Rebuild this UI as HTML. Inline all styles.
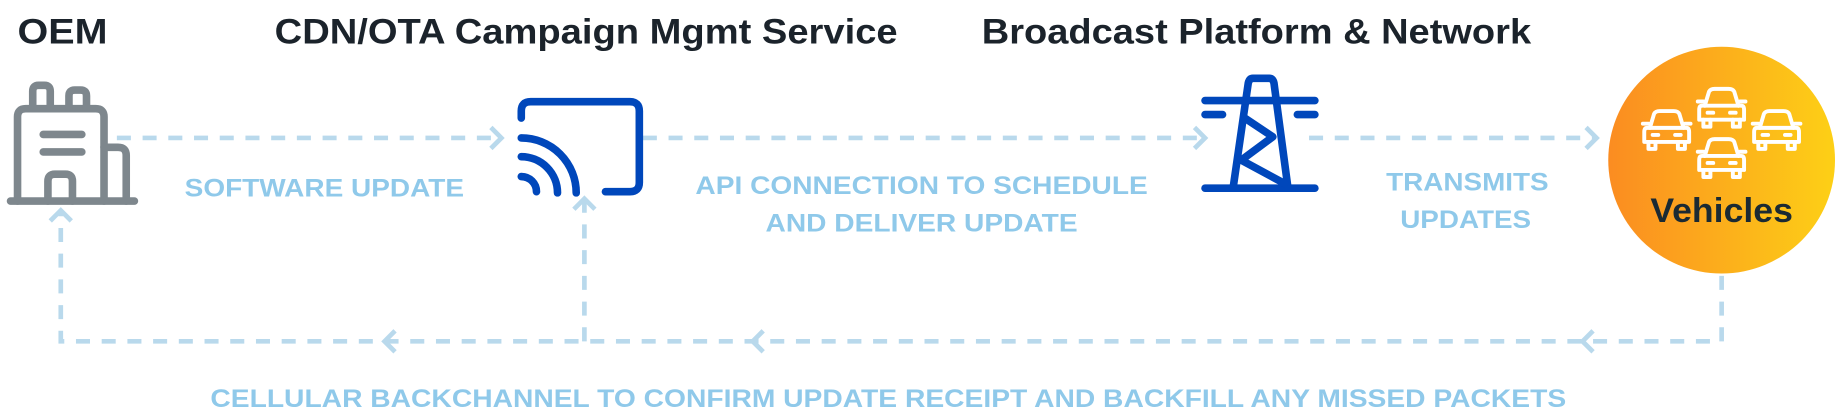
<!DOCTYPE html>
<html><head><meta charset="utf-8"><style>
html,body{margin:0;padding:0;background:#fff;width:1835px;height:411px;overflow:hidden}
svg{display:block}
text{font-family:"Liberation Sans",sans-serif;font-weight:bold}
</style></head><body>
<svg width="1835" height="411" viewBox="0 0 1570 351.6" xmlns="http://www.w3.org/2000/svg">
<defs>
<linearGradient id="g" x1="0" x2="1" y1="0" y2="0">
<stop offset="0" stop-color="#fb8c21"/><stop offset="1" stop-color="#fdd016"/>
</linearGradient>
<g id="car" fill="none" stroke="#fff" stroke-width="2.8" stroke-linejoin="round" stroke-linecap="round">
<path d="M-12,-3 L-9,-13 Q-8,-15 -5,-15 L5,-15 Q8,-15 9,-13 L12,-3"/>
<path d="M-14,-3 L14,-3 Q16,-3 16,0 L16,7 L-16,7 L-16,0 Q-16,-3 -14,-3Z"/>
<path d="M-13,7 L-13,12 L-8,12 L-8,7 M13,7 L13,12 L8,12 L8,7"/>
<path d="M-17,-6 L-13,-6 M17,-6 L13,-6"/>
<path d="M-10,2 L-6,2 M10,2 L6,2"/>
</g>
</defs>
<g fill="#1b232b" font-size="30">
<text x="15" y="37" textLength="77" lengthAdjust="spacingAndGlyphs">OEM</text>
<text x="235" y="37" textLength="533" lengthAdjust="spacingAndGlyphs">CDN/OTA Campaign Mgmt Service</text>
<text x="840" y="37" textLength="470" lengthAdjust="spacingAndGlyphs">Broadcast Platform &amp; Network</text>
</g>
<g fill="none" stroke="#b9d9ec" stroke-width="4">
<path d="M100,118 H428 M550,118 H1030 M1120,118 H1365" stroke-dasharray="12,10"/>
<path d="M1473,236 V292 H52 V180 M500,292 V172" stroke-dasharray="12,10"/>
<path d="M420,109 L429,118 L420,127 M1022,109 L1031,118 L1022,127 M1357,109 L1366,118 L1357,127"/>
<path d="M1363,283 L1354,292 L1363,301 M653,283 L644,292 L653,301 M338,283 L329,292 L338,301"/>
<path d="M43,189 L52,180 L61,189 M491,179 L500,170 L509,179"/>
</g>
<g fill="#8fc9ea" font-size="21">
<text x="158" y="168" textLength="239" lengthAdjust="spacingAndGlyphs">SOFTWARE UPDATE</text>
<text x="595" y="166" textLength="387" lengthAdjust="spacingAndGlyphs">API CONNECTION TO SCHEDULE</text>
<text x="655" y="198" textLength="267" lengthAdjust="spacingAndGlyphs">AND DELIVER UPDATE</text>
<text x="1186" y="163" textLength="139" lengthAdjust="spacingAndGlyphs">TRANSMITS</text>
<text x="1198" y="195" textLength="112" lengthAdjust="spacingAndGlyphs">UPDATES</text>
<text x="180" y="348" textLength="1160" lengthAdjust="spacingAndGlyphs">CELLULAR BACKCHANNEL TO CONFIRM UPDATE RECEIPT AND BACKFILL ANY MISSED PACKETS</text>
</g>
<!-- OEM building -->
<g fill="none" stroke="#7e878d" stroke-width="6.5" stroke-linecap="round" stroke-linejoin="round">
<path d="M15,172 V100 Q15,93 22,93 H82 Q89,93 89,100 V172"/>
<path d="M28,93 V78 Q28,73 33,73 H38 Q43,73 43,78 V93"/>
<path d="M59,93 V82 Q59,77 64,77 H69 Q74,77 74,82 V93"/>
<path d="M89,126 H101 Q108,126 108,133 V172"/>
<path d="M37,115 H70 M37,130 H70"/>
<path d="M41,172 V155 Q41,149 47,149 H56 Q62,149 62,155 V172"/>
<path d="M9,172 H115"/>
</g>
<!-- CDN cast icon -->
<g fill="none" stroke="#0047bb" stroke-width="6.5" stroke-linecap="round">
<path d="M446,101 V95 Q446,87 454,87 H539 Q547,87 547,95 V156 Q547,164 539,164 H518"/>
<path d="M446,118 A47,47 0 0 1 493,165"/>
<path d="M446,134 A31,31 0 0 1 477,165"/>
<path d="M446,151 A13,13 0 0 1 459,164"/>
</g>
<!-- Tower -->
<g fill="none" stroke="#0047bb" stroke-width="6.5" stroke-linecap="round" stroke-linejoin="round">
<path d="M1055,161 L1068,71 Q1069,67 1072,67 H1086 Q1089,67 1090,71 L1102,161"/>
<path d="M1031,86 H1125 M1031,98 H1046 M1110,98 H1125 M1031,161 H1125"/>
<path d="M1065,101 L1089,117 L1062,137 L1099,157"/>
</g>
<!-- Vehicles circle -->
<circle cx="1473" cy="137" r="97" fill="url(#g)"/>
<g transform="translate(1426,113) scale(1.2)"><use href="#car"/></g>
<g transform="translate(1473,94) scale(1.2)"><use href="#car"/></g>
<g transform="translate(1520,113) scale(1.2)"><use href="#car"/></g>
<g transform="translate(1473,137) scale(1.2)"><use href="#car"/></g>
<text x="1412" y="190" font-size="29" fill="#1b2a33" textLength="122" lengthAdjust="spacingAndGlyphs">Vehicles</text>
</svg>
</body></html>
